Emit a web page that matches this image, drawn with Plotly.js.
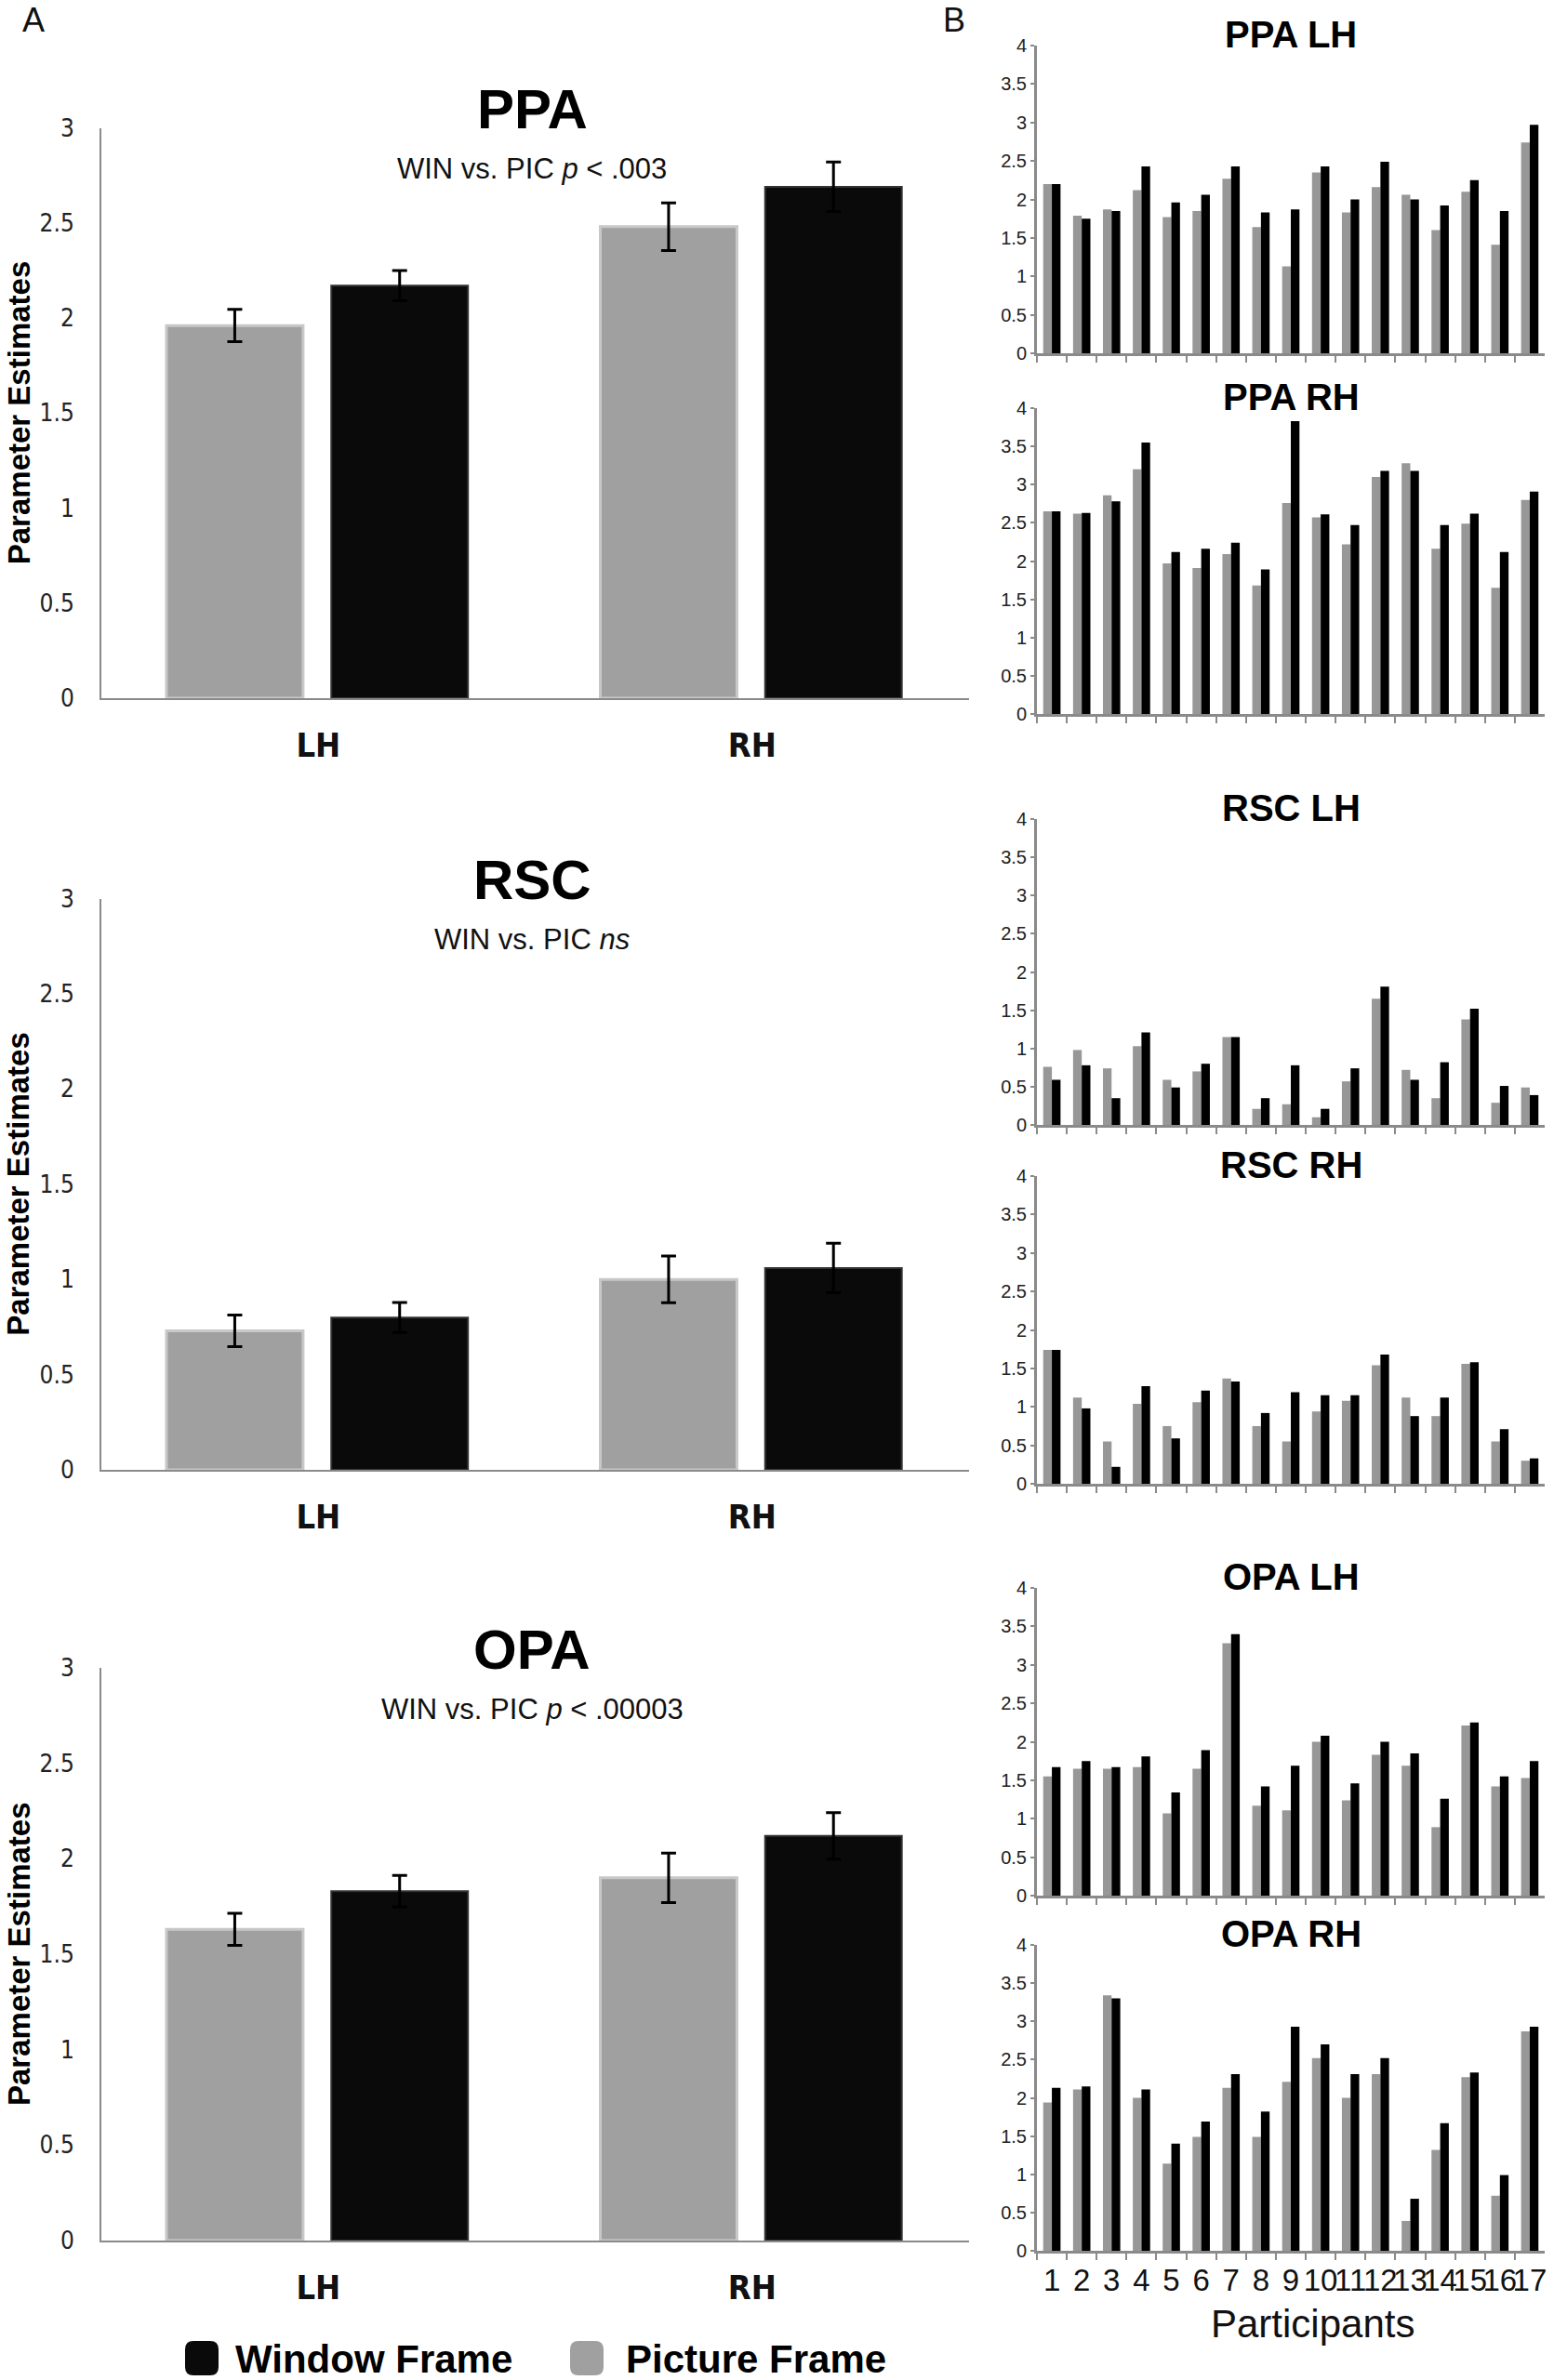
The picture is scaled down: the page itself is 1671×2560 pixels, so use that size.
<!DOCTYPE html>
<html><head><meta charset="utf-8">
<script src="https://cdn.plot.ly/plotly-3.0.1.min.js"></script>
<style>html,body{margin:0;padding:0;background:#fff}#chart{width:1671px;height:2560px}</style>
</head><body><div id="chart"></div><script>
// ---------- DATA ----------
// Panel A: group means (Parameter Estimates) with error bars
const hemispheres = ['LH', 'RH'];
const ppaPicture = [1.96, 2.48];
const ppaPictureErr = [0.085, 0.125];
const ppaWindow = [2.17, 2.69];
const ppaWindowErr = [0.08, 0.13];
const rscPicture = [0.73, 1.00];
const rscPictureErr = [0.083, 0.123];
const rscWindow = [0.80, 1.06];
const rscWindowErr = [0.079, 0.13];
const opaPicture = [1.63, 1.90];
const opaPictureErr = [0.084, 0.13];
const opaWindow = [1.83, 2.12];
const opaWindowErr = [0.083, 0.122];

// Panel B: individual participants
const participants = ['1','2','3','4','5','6','7','8','9','10','11','12','13','14','15','16','17'];
const ppaLhPicture = [2.20,1.79,1.87,2.12,1.77,1.85,2.27,1.64,1.13,2.35,1.83,2.16,2.06,1.60,2.10,1.41,2.74];
const ppaLhWindow  = [2.20,1.75,1.85,2.43,1.96,2.06,2.43,1.83,1.87,2.43,2.00,2.49,2.00,1.92,2.25,1.85,2.97];
const ppaRhPicture = [2.65,2.62,2.86,3.20,1.97,1.91,2.09,1.68,2.76,2.57,2.22,3.10,3.28,2.16,2.49,1.65,2.80];
const ppaRhWindow  = [2.65,2.63,2.78,3.55,2.12,2.16,2.24,1.89,3.83,2.61,2.47,3.18,3.18,2.47,2.62,2.12,2.91];
const rscLhPicture = [0.76,0.98,0.74,1.03,0.59,0.70,1.15,0.21,0.27,0.10,0.57,1.65,0.72,0.35,1.38,0.29,0.49];
const rscLhWindow  = [0.59,0.78,0.35,1.21,0.49,0.80,1.15,0.35,0.78,0.21,0.74,1.81,0.59,0.82,1.52,0.51,0.39];
const rscRhPicture = [1.74,1.12,0.55,1.04,0.75,1.06,1.37,0.75,0.55,0.94,1.08,1.54,1.12,0.88,1.56,0.55,0.30];
const rscRhWindow  = [1.74,0.98,0.22,1.27,0.59,1.21,1.33,0.92,1.19,1.15,1.15,1.68,0.88,1.12,1.58,0.71,0.33];
const opaLhPicture = [1.55,1.65,1.65,1.67,1.07,1.65,3.28,1.17,1.11,2.00,1.24,1.83,1.69,0.89,2.21,1.42,1.53];
const opaLhWindow  = [1.67,1.75,1.67,1.81,1.34,1.89,3.40,1.42,1.69,2.08,1.46,2.00,1.85,1.26,2.25,1.55,1.75];
const opaRhPicture = [1.94,2.11,3.34,2.00,1.14,1.49,2.13,1.49,2.21,2.52,2.00,2.31,0.39,1.32,2.27,0.72,2.87];
const opaRhWindow  = [2.13,2.15,3.30,2.11,1.40,1.69,2.31,1.82,2.93,2.70,2.31,2.52,0.68,1.67,2.33,0.99,2.93];

const legendLabels = ['Window Frame', 'Picture Frame'];

// ---------- LAYOUT HELPERS ----------
const W = 1671, H = 2560;
const px = x => x / W;
const py = y => 1 - y / H;
const FONT = 'Liberation Sans, Arial, sans-serif';
const NARROW = 'Liberation Sans Narrow, Arial Narrow, DejaVu Sans Condensed, sans-serif';
const GRAY_A = '#a0a0a0', BLACK_A = '#0a0a0a';
const GRAY_B = '#979797', BLACK_B = '#000000';
const AXIS = '#8a8a8a';

const leftPanels = [
  {title: 'PPA', sub: 'WIN vs. PIC <i>p</i> &lt; .003', top: 137.5, bot: 751,
   pic: ppaPicture, picErr: ppaPictureErr, win: ppaWindow, winErr: ppaWindowErr},
  {title: 'RSC', sub: 'WIN vs. PIC <i>ns</i>', top: 966.5, bot: 1581,
   pic: rscPicture, picErr: rscPictureErr, win: rscWindow, winErr: rscWindowErr},
  {title: 'OPA', sub: 'WIN vs. PIC <i>p</i> &lt; .00003', top: 1794, bot: 2410,
   pic: opaPicture, picErr: opaPictureErr, win: opaWindow, winErr: opaWindowErr}
];
const rightPanels = [
  {title: 'PPA LH', top: 49, bot: 380, pic: ppaLhPicture, win: ppaLhWindow},
  {title: 'PPA RH', top: 439, bot: 768, pic: ppaRhPicture, win: ppaRhWindow},
  {title: 'RSC LH', top: 881, bot: 1210, pic: rscLhPicture, win: rscLhWindow},
  {title: 'RSC RH', top: 1265, bot: 1596, pic: rscRhPicture, win: rscRhWindow},
  {title: 'OPA LH', top: 1708, bot: 2039, pic: opaLhPicture, win: opaLhWindow},
  {title: 'OPA RH', top: 2092, bot: 2421, pic: opaRhPicture, win: opaRhWindow}
];

const LX0 = 109, LX1 = 1042, RX0 = 1115, RX1 = 1661;

const traces = [];
const layout = {
  width: W, height: H,
  margin: {l: 0, r: 0, t: 0, b: 0},
  paper_bgcolor: '#fff', plot_bgcolor: 'rgba(0,0,0,0)',
  barmode: 'overlay',
  showlegend: false,
  font: {family: FONT, color: '#111'},
  annotations: [], shapes: []
};

let k = 0;
leftPanels.forEach(p => {
  k++;
  const xa = 'x' + k, ya = 'y' + k;
  traces.push({
    type: 'bar', x: hemispheres, y: p.pic, xaxis: xa, yaxis: ya,
    width: 0.315, offset: -0.35, name: legendLabels[1],
    marker: {color: GRAY_A, line: {color: '#c8c8c8', width: 3}},
    error_y: {type: 'data', array: p.picErr, visible: true, color: '#000', thickness: 3, width: 8},
    hoverinfo: 'skip'
  });
  traces.push({
    type: 'bar', x: hemispheres, y: p.win, xaxis: xa, yaxis: ya,
    width: 0.315, offset: 0.03, name: legendLabels[0],
    marker: {color: BLACK_A, line: {color: '#333', width: 2}},
    error_y: {type: 'data', array: p.winErr, visible: true, color: '#000', thickness: 3, width: 8},
    hoverinfo: 'skip'
  });
  layout['xaxis' + k] = {
    domain: [px(LX0), px(LX1)], anchor: ya, type: 'category', range: [-0.5, 1.5],
    showline: true, linecolor: AXIS, linewidth: 2, ticks: '', showgrid: false, zeroline: false,
    tickfont: {family: NARROW, size: 36, color: '#111', weight: 'bold'},
    ticklabelstandoff: 18, fixedrange: true
  };
  layout['yaxis' + k] = {
    domain: [py(p.bot), py(p.top)], anchor: xa, range: [0, 3], dtick: 0.5, tick0: 0,
    showline: true, linecolor: AXIS, linewidth: 2, ticks: '', showgrid: false, zeroline: false,
    tickfont: {family: NARROW, size: 26, color: '#222'},
    ticklabelstandoff: 22, fixedrange: true
  };
  const cx = 572;
  layout.annotations.push({
    xref: 'paper', yref: 'paper', x: px(cx), y: py(p.top - 20), text: '<b>' + p.title + '</b>',
    showarrow: false, xanchor: 'center', yanchor: 'middle',
    font: {family: FONT, size: 60, color: '#000'}
  });
  layout.annotations.push({
    xref: 'paper', yref: 'paper', x: px(cx), y: py(p.top + 44), text: p.sub,
    showarrow: false, xanchor: 'center', yanchor: 'middle',
    font: {family: FONT, size: 31, color: '#111'}
  });
  layout.annotations.push({
    xref: 'paper', yref: 'paper', x: px(20), y: py((p.top + p.bot) / 2), text: '<b>Parameter Estimates</b>',
    showarrow: false, xanchor: 'center', yanchor: 'middle', textangle: -90,
    font: {family: FONT, size: 33, color: '#000'}
  });
});

rightPanels.forEach((p, i) => {
  k++;
  const xa = 'x' + k, ya = 'y' + k;
  const last = i === rightPanels.length - 1;
  traces.push({
    type: 'bar', x: participants, y: p.pic, xaxis: xa, yaxis: ya,
    width: 0.29, offset: -0.29, name: legendLabels[1],
    marker: {color: GRAY_B, line: {width: 0}}, hoverinfo: 'skip'
  });
  traces.push({
    type: 'bar', x: participants, y: p.win, xaxis: xa, yaxis: ya,
    width: 0.29, offset: 0, name: legendLabels[0],
    marker: {color: BLACK_B, line: {width: 0}}, hoverinfo: 'skip'
  });
  layout['xaxis' + k] = {
    domain: [px(RX0), px(RX1)], anchor: ya, type: 'category', range: [-0.5, 16.5],
    showline: true, linecolor: AXIS, linewidth: 3, ticks: 'outside', tickson: 'boundaries',
    ticklen: 7, tickwidth: 2, tickcolor: AXIS, showgrid: false, zeroline: false,
    showticklabels: last, tickangle: 0, dtick: 1,
    tickfont: {family: FONT, size: 33, color: '#111'},
    fixedrange: true
  };
  layout['yaxis' + k] = {
    domain: [py(p.bot), py(p.top)], anchor: xa, range: [0, 4], dtick: 0.5, tick0: 0,
    showline: true, linecolor: AXIS, linewidth: 3, ticks: 'outside', ticklen: 4, tickwidth: 2,
    tickcolor: AXIS, showgrid: false, zeroline: false,
    tickfont: {family: FONT, size: 20, color: '#222'}, fixedrange: true
  };
  layout.annotations.push({
    xref: 'paper', yref: 'paper', x: px((RX0 + RX1) / 2), y: py(p.top - 12), text: '<b>' + p.title + '</b>',
    showarrow: false, xanchor: 'center', yanchor: 'middle',
    font: {family: FONT, size: 40, color: '#000'}
  });
});

// Participants axis label
layout.annotations.push({
  xref: 'paper', yref: 'paper', x: px(1411), y: py(2499), text: 'Participants',
  showarrow: false, xanchor: 'center', yanchor: 'middle',
  font: {family: FONT, size: 42, color: '#111'}
});
// Panel letters
layout.annotations.push({xref: 'paper', yref: 'paper', x: px(36), y: py(22), text: 'A', showarrow: false,
  xanchor: 'center', yanchor: 'middle', font: {family: FONT, size: 36, color: '#111'}});
layout.annotations.push({xref: 'paper', yref: 'paper', x: px(1026), y: py(22), text: 'B', showarrow: false,
  xanchor: 'center', yanchor: 'middle', font: {family: FONT, size: 36, color: '#111'}});

// Legend (swatches + labels)
function roundRect(x0, y0, x1, y1, r) {
  const X = v => px(v), Y = v => py(v);
  return 'M' + X(x0 + r) + ',' + Y(y0) + ' L' + X(x1 - r) + ',' + Y(y0) +
    ' Q' + X(x1) + ',' + Y(y0) + ' ' + X(x1) + ',' + Y(y0 + r) +
    ' L' + X(x1) + ',' + Y(y1 - r) + ' Q' + X(x1) + ',' + Y(y1) + ' ' + X(x1 - r) + ',' + Y(y1) +
    ' L' + X(x0 + r) + ',' + Y(y1) + ' Q' + X(x0) + ',' + Y(y1) + ' ' + X(x0) + ',' + Y(y1 - r) +
    ' L' + X(x0) + ',' + Y(y0 + r) + ' Q' + X(x0) + ',' + Y(y0) + ' ' + X(x0 + r) + ',' + Y(y0) + ' Z';
}
const legendItems = [
  {label: legendLabels[0], color: BLACK_A, sx: 199, tx: 251},
  {label: legendLabels[1], color: GRAY_A, sx: 613, tx: 671}
];
legendItems.forEach(it => {
  layout.shapes.push({type: 'path', xref: 'paper', yref: 'paper', path: roundRect(it.sx, 2518, it.sx + 36, 2555, 9),
    fillcolor: it.color, line: {width: 0}});
  layout.annotations.push({xref: 'paper', yref: 'paper', x: px(it.tx), y: py(2537), text: '<b>' + it.label + '</b>',
    showarrow: false, xanchor: 'left', yanchor: 'middle', font: {family: FONT, size: 42, color: '#000'}});
});

Plotly.newPlot('chart', traces, layout, {staticPlot: true, displayModeBar: false});
</script></body></html>
